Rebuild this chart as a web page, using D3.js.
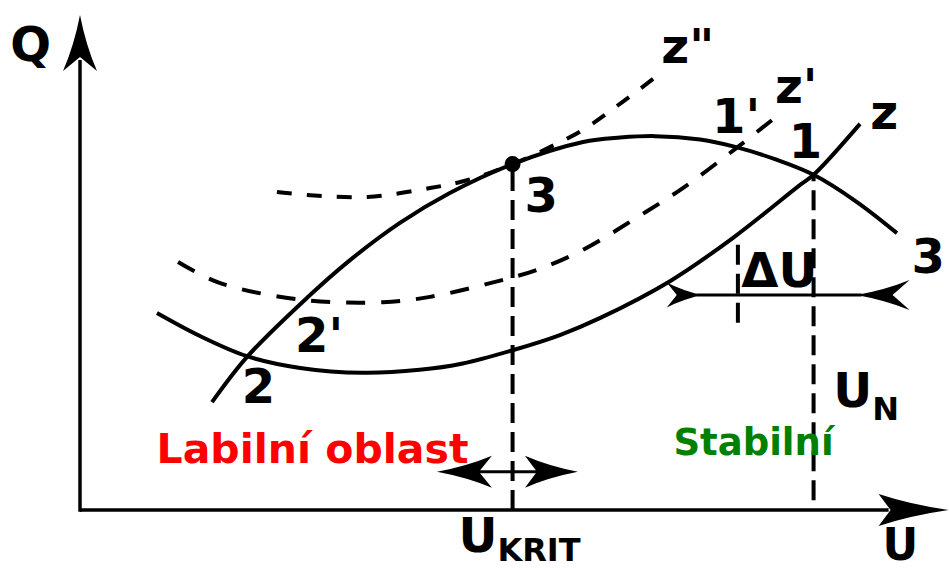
<!DOCTYPE html>
<html><head><meta charset="utf-8">
<script src="https://cdn.jsdelivr.net/npm/d3@7"></script>
<style>html,body{margin:0;padding:0;background:#fff;} svg{display:block;}</style>
</head><body>
<svg id="chart" width="950" height="570"></svg>
<script>
// ---- data (U, Q) in arbitrary units ----
const zCurve = [[8.95,40.2],[13.95,35.5],[19.4,31.4],[25.6,29.0],[32.9,28.0],[39.5,28.6],[44.5,29.9],[50.3,32.6],[55.8,35.7],[60.5,39.2],[68.6,46.7],[75.9,55.5],[83.7,66.3],[85.3,68.4],[90.7,78.8]];
const zPrimeCurve = [[11.4,50.6],[16.3,46.3],[25.9,42.9],[35.2,42.4],[40.7,43.5],[47.7,46.3],[53.1,49.0],[58.5,53.1],[64.3,59.2],[70.1,65.7],[76.2,73.7],[81.2,80.6]];
const zDoubleCurve = [[22.9,64.9],[26.4,64.3],[33.4,63.9],[40.7,65.7],[45.0,67.3],[50.3,70.6],[54.7,74.1],[58.5,77.6],[63.1,83.3],[68.0,89.8]];
const supplyCurve = [[15.35,22.0],[19.4,31.2],[26.4,43.3],[31.4,51.0],[37.2,58.6],[43.0,64.7],[50.3,70.6],[58.5,75.1],[62.8,76.0],[66.9,76.3],[72.1,75.6],[76.2,74.1],[80.8,71.6],[85.3,68.4],[90.3,62.9],[95.0,56.5]];
const criticalPoint = [50.3, 70.6];
const uKrit = 50.3, uN = 85.3, uShift = 76.5;
const verticalMarks = [[uKrit, 0, 70.6], [uN, 2.0, 68.4], [uShift, 38.2, 54.5]];
const deltaArrow = [72.3, 90.3, 43.9];   // from U, to U, at Q
const kritArrow = [41.5, 57.9, 7.8];     // left tip U, right tip U, at Q
const axisMax = [101, 101];
const pointLabels = [
  ['z"', 67.6, 91.2], ["z'", 80.8, 83.1], ['z', 91.9, 77.8],
  ["1'", 73.5, 76.9], ['1', 82.4, 71.8], ['3', 51.7, 60.8], ['3', 96.7, 48.4],
  ["2'", 25.0, 32.2], ['2', 18.8, 21.8], ['ΔU', 76.9, 45.5]
];
const regionLabels = [['Labilní oblast', 8.9, 9.6], ['Stabilní', 69.0, 11.2]];
const subLabels = [['U', 'N', 87.6, 21.0], ['U', 'KRIT', 44.0, -8.6]];
const axisTitles = [['U', 93.3, -10.2], ['Q', -8.1, 91.6]];

// ---- drawing ----
const x = d3.scaleLinear().domain([0, 100]).range([80, 940]);
const y = d3.scaleLinear().domain([0, 100]).range([510, 20]);
const svg = d3.select('#chart');
const FONT = 'DejaVu Sans, sans-serif';
const regionStyles = [{fill: '#ff0000', size: 41}, {fill: '#008000', size: 37}];
const subShift = [13, 9];
const titleSizes = [44, 48];

const line = d3.line().x(d => x(d[0])).y(d => y(d[1])).curve(d3.curveCatmullRom.alpha(0.5));

function arrowHead(tx, ty, dx, dy, len, half, notch) {
  const px = -dy, py = dx;
  const bx = tx - dx * len, by = ty - dy * len;
  const nx = tx - dx * (len - notch), ny = ty - dy * (len - notch);
  const p = d3.path();
  p.moveTo(tx, ty);
  p.quadraticCurveTo(tx - dx * len * 0.55 + px * half * 0.35, ty - dy * len * 0.55 + py * half * 0.35, bx + px * half, by + py * half);
  p.lineTo(nx, ny);
  p.lineTo(bx - px * half, by - py * half);
  p.quadraticCurveTo(tx - dx * len * 0.55 - px * half * 0.35, ty - dy * len * 0.55 - py * half * 0.35, tx, ty);
  p.closePath();
  svg.append('path').attr('d', p.toString()).attr('fill', '#000');
}

// axes
svg.append('line').attr('x1', x(0)).attr('y1', y(0)).attr('x2', x(axisMax[0]) - 60).attr('y2', y(0))
  .attr('stroke', '#000').attr('stroke-width', 3.5);
svg.append('line').attr('x1', x(0)).attr('y1', y(0) + 1.75).attr('x2', x(0)).attr('y2', y(axisMax[1]) + 45)
  .attr('stroke', '#000').attr('stroke-width', 3.5);
arrowHead(x(axisMax[0]), y(0), 1, 0, 70, 16, 12);
arrowHead(x(0), y(axisMax[1]), 0, -1, 56, 17, 14);

// vertical dashed marks
verticalMarks.forEach(v => {
  svg.append('line').attr('x1', x(v[0])).attr('x2', x(v[0])).attr('y1', y(v[1])).attr('y2', y(v[2]))
    .attr('stroke', '#000').attr('stroke-width', 4).attr('stroke-dasharray', '20,9');
});

// curves
svg.append('path').attr('d', line(zDoubleCurve)).attr('fill', 'none').attr('stroke', '#000')
  .attr('stroke-width', 4).attr('stroke-dasharray', '15,15');
svg.append('path').attr('d', line(zPrimeCurve)).attr('fill', 'none').attr('stroke', '#000')
  .attr('stroke-width', 4).attr('stroke-dasharray', '19,16');
svg.append('path').attr('d', line(zCurve)).attr('fill', 'none').attr('stroke', '#000').attr('stroke-width', 4);
svg.append('path').attr('d', line(supplyCurve)).attr('fill', 'none').attr('stroke', '#000').attr('stroke-width', 4);

// critical point
svg.append('circle').attr('cx', x(criticalPoint[0])).attr('cy', y(criticalPoint[1])).attr('r', 8).attr('fill', '#000');

// ΔU arrow
svg.append('line').attr('x1', x(deltaArrow[0]) - 5).attr('x2', x(deltaArrow[1]) + 5)
  .attr('y1', y(deltaArrow[2])).attr('y2', y(deltaArrow[2])).attr('stroke', '#000').attr('stroke-width', 3);
arrowHead(x(deltaArrow[0]), y(deltaArrow[2]), 1, 0, 35, 12.5, 10);
arrowHead(x(deltaArrow[1]), y(deltaArrow[2]), -1, 0, 53, 15, 17);

// critical double arrow
svg.append('line').attr('x1', x(kritArrow[0]) + 40).attr('x2', x(kritArrow[1]) - 40)
  .attr('y1', y(kritArrow[2])).attr('y2', y(kritArrow[2])).attr('stroke', '#000').attr('stroke-width', 3);
arrowHead(x(kritArrow[0]), y(kritArrow[2]), -1, 0, 55, 16, 13);
arrowHead(x(kritArrow[1]), y(kritArrow[2]), 1, 0, 53, 16, 12);

// labels
pointLabels.forEach(l => {
  svg.append('text').attr('x', x(l[1])).attr('y', y(l[2])).text(l[0])
    .attr('font-family', FONT).attr('font-weight', 'bold').attr('font-size', 48).attr('fill', '#000');
});
regionLabels.forEach((l, i) => {
  svg.append('text').attr('x', x(l[1])).attr('y', y(l[2])).text(l[0])
    .attr('font-family', FONT).attr('font-weight', 'bold').attr('font-size', regionStyles[i].size).attr('fill', regionStyles[i].fill);
});
subLabels.forEach((l, i) => {
  const t = svg.append('text').attr('x', x(l[2])).attr('y', y(l[3]))
    .attr('font-family', FONT).attr('font-weight', 'bold').attr('font-size', 48).attr('fill', '#000');
  t.append('tspan').text(l[0]);
  t.append('tspan').text(l[1]).attr('font-size', 32).attr('dy', subShift[i]);
});
axisTitles.forEach((l, i) => {
  svg.append('text').attr('x', x(l[1])).attr('y', y(l[2])).text(l[0])
    .attr('font-family', FONT).attr('font-weight', 'bold').attr('font-size', titleSizes[i]).attr('fill', '#000');
});
</script>
</body></html>
